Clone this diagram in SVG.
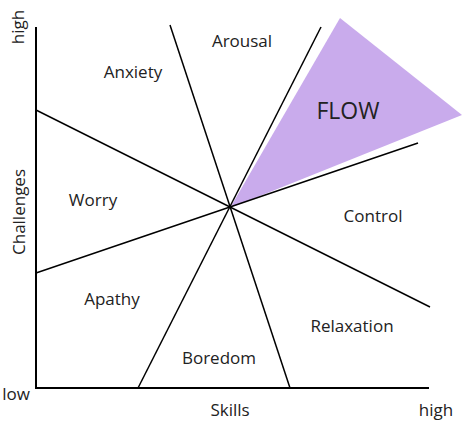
<svg xmlns="http://www.w3.org/2000/svg" width="464" height="424" viewBox="0 0 464 424">
<style>
.ln{stroke:#000;stroke-width:1.5;fill:none}
.ax{stroke:#000;stroke-width:2;fill:none}
text{font-family:"Open Sans","Liberation Sans",sans-serif;font-size:17px;fill:#222;text-anchor:middle}
</style>
<rect width="464" height="424" fill="#fff"/>
<g id="flow-region"><polygon points="230,208 340,18 462,115" fill="#C9ABEC"/></g>
<g id="connectors">
<line class="ax" x1="36" y1="27" x2="36" y2="389"/>
<line class="ax" x1="35" y1="388" x2="429" y2="388"/>
<line class="ln" x1="36" y1="110" x2="430" y2="307"/>
<line class="ln" x1="36" y1="273" x2="418" y2="143"/>
<line class="ln" x1="170" y1="25" x2="290" y2="388"/>
<line class="ln" x1="321" y1="27" x2="138" y2="388"/>
</g>
<g id="axis-labels">
<text transform="translate(24,27) rotate(-90)">high</text>
<text transform="translate(25,212) rotate(-90)">Challenges</text>
<text x="16" y="400">low</text>
<text x="230" y="416">Skills</text>
<text x="436" y="416">high</text>
</g>
<g id="anxiety"><text x="133" y="78">Anxiety</text></g>
<g id="arousal"><text x="242" y="47">Arousal</text></g>
<g id="flow"><text x="348" y="119" style="font-size:23px">FLOW</text></g>
<g id="worry"><text x="93" y="206">Worry</text></g>
<g id="control"><text x="373" y="222">Control</text></g>
<g id="apathy"><text x="112" y="305">Apathy</text></g>
<g id="relaxation"><text x="352" y="332">Relaxation</text></g>
<g id="boredom"><text x="219" y="364">Boredom</text></g>
</svg>
